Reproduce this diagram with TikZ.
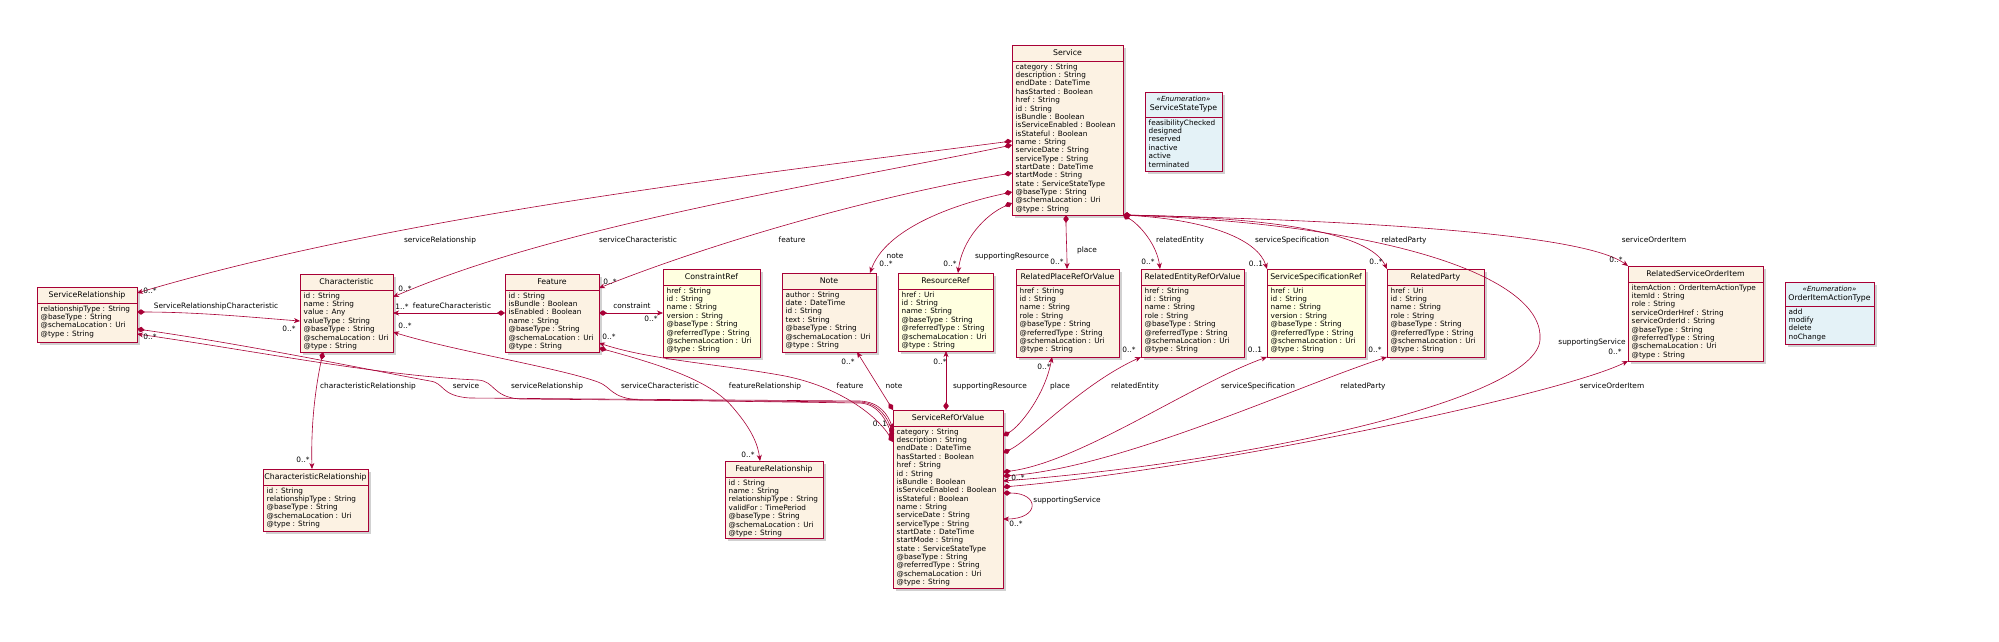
\documentclass[tikz,border=0pt]{standalone}
\usepackage{fontspec}
\setmainfont{DejaVu Sans}
\usetikzlibrary{arrows.meta,calc}
\definecolor{bordc}{HTML}{A80036}
\definecolor{beige}{HTML}{FCF2E3}
\definecolor{refy}{HTML}{FFFFE0}
\definecolor{enumb}{HTML}{E4F2F7}
\tikzset{
  boxst/.style={draw=bordc, line width=0.9pt, inner sep=0pt, outer sep=0pt},
  sepline/.style={draw=bordc, line width=0.9pt},
  titlest/.style={font=\fontsize{7.8}{9}\selectfont, inner sep=0pt, align=center},
  attrst/.style={font=\fontsize{7.3}{8.35}\selectfont, inner sep=0pt, align=left, anchor=north west},
  lbl/.style={font=\fontsize{7.4}{8}\selectfont, inner sep=0pt},
  comp/.style={draw=bordc, line width=0.6pt, {Diamond[length=8pt,width=5.5pt]}-{Stealth[length=6pt,width=5pt,inset=1.8pt]}},
  compr/.style={draw=bordc, line width=0.6pt, {Stealth[length=6pt,width=5pt,inset=1.8pt]}-{Diamond[length=8pt,width=5.5pt]}},
}
\newcommand\umlbox[9]{%
  \fill[black!18] (#2+3,#3+3) rectangle (#4+3,#5+3);
  \node[boxst, fill=#6, minimum width={#4-#2}, minimum height={#5-#3}, anchor=north west] (#1) at (#2,#3) {};
  \draw[sepline] ($(#1.north west)+(0,#7)$) -- ($(#1.north east)+(0,#7)$);
  \node[titlest] (#1-t) at ($(#1.north)+(0,#7/2)$) {#8};
  \node[attrst] (#1-a) at ($(#1.north west)+(3.5,#7+2.5)$) {#9};
}
\begin{document}
\begin{tikzpicture}[x=1pt,y=-1pt]
\useasboundingbox (0,0) rectangle (1999,641);
\fill[white] (0,0) rectangle (1999,641);

% ---------- classes ----------
\umlbox{Svc}{1012}{45}{1123}{215}{beige}{16}{Service}{category : String\\description : String\\endDate : DateTime\\hasStarted : Boolean\\href : String\\id : String\\isBundle : Boolean\\isServiceEnabled : Boolean\\isStateful : Boolean\\name : String\\serviceDate : String\\serviceType : String\\startDate : DateTime\\startMode : String\\state : ServiceStateType\\@baseType : String\\@schemaLocation : Uri\\@type : String}
\umlbox{SST}{1145}{92}{1222}{171}{enumb}{25}{{\fontsize{7}{8}\selectfont\itshape «Enumeration»}\\ServiceStateType}{feasibilityChecked\\designed\\reserved\\inactive\\active\\terminated}
\umlbox{SR}{37}{287}{137}{342}{beige}{16}{ServiceRelationship}{relationshipType : String\\@baseType : String\\@schemaLocation : Uri\\@type : String}
\umlbox{Char}{300}{274}{393}{352}{beige}{16}{Characteristic}{id : String\\name : String\\value : Any\\valueType : String\\@baseType : String\\@schemaLocation : Uri\\@type : String}
\umlbox{Feat}{505}{274}{599}{352}{beige}{16}{Feature}{id : String\\isBundle : Boolean\\isEnabled : Boolean\\name : String\\@baseType : String\\@schemaLocation : Uri\\@type : String}
\umlbox{CRef}{663}{269}{760}{357}{refy}{16}{ConstraintRef}{href : String\\id : String\\name : String\\version : String\\@baseType : String\\@referredType : String\\@schemaLocation : Uri\\@type : String}
\umlbox{Note}{782}{273}{876}{352}{beige}{16}{Note}{author : String\\date : DateTime\\id : String\\text : String\\@baseType : String\\@schemaLocation : Uri\\@type : String}
\umlbox{ResRef}{898}{273}{993}{351}{refy}{16}{ResourceRef}{href : Uri\\id : String\\name : String\\@baseType : String\\@referredType : String\\@schemaLocation : Uri\\@type : String}
\umlbox{RPlace}{1016}{269}{1119}{357}{beige}{16}{RelatedPlaceRefOrValue}{href : String\\id : String\\name : String\\role : String\\@baseType : String\\@referredType : String\\@schemaLocation : Uri\\@type : String}
\umlbox{REnt}{1141}{269}{1244}{357}{beige}{16}{RelatedEntityRefOrValue}{href : String\\id : String\\name : String\\role : String\\@baseType : String\\@referredType : String\\@schemaLocation : Uri\\@type : String}
\umlbox{SSpec}{1267}{269}{1365}{357}{refy}{16}{ServiceSpecificationRef}{href : Uri\\id : String\\name : String\\version : String\\@baseType : String\\@referredType : String\\@schemaLocation : Uri\\@type : String}
\umlbox{RParty}{1387}{269}{1484}{357}{beige}{16}{RelatedParty}{href : Uri\\id : String\\name : String\\role : String\\@baseType : String\\@referredType : String\\@schemaLocation : Uri\\@type : String}
\umlbox{RSOI}{1628}{266}{1763}{361}{beige}{16}{RelatedServiceOrderItem}{itemAction : OrderItemActionType\\itemId : String\\role : String\\serviceOrderHref : String\\serviceOrderId : String\\@baseType : String\\@referredType : String\\@schemaLocation : Uri\\@type : String}
\umlbox{OIAT}{1785}{282}{1874}{344}{enumb}{24}{{\fontsize{7}{8}\selectfont\itshape «Enumeration»}\\OrderItemActionType}{add\\modify\\delete\\noChange}
\umlbox{SRV}{893}{410}{1003}{588}{beige}{16}{ServiceRefOrValue}{category : String\\description : String\\endDate : DateTime\\hasStarted : Boolean\\href : String\\id : String\\isBundle : Boolean\\isServiceEnabled : Boolean\\isStateful : Boolean\\name : String\\serviceDate : String\\serviceType : String\\startDate : DateTime\\startMode : String\\state : ServiceStateType\\@baseType : String\\@referredType : String\\@schemaLocation : Uri\\@type : String}
\umlbox{CRel}{263}{469}{368}{531}{beige}{16}{CharacteristicRelationship}{id : String\\relationshipType : String\\@baseType : String\\@schemaLocation : Uri\\@type : String}
\umlbox{FRel}{725}{461}{823}{538}{beige}{16}{FeatureRelationship}{id : String\\name : String\\relationshipType : String\\validFor : TimePeriod\\@baseType : String\\@schemaLocation : Uri\\@type : String}

% ---------- connectors from Service ----------
\draw[comp] (Svc.west |- 0,141) .. controls (750,175) and (400,215) .. (SR.east |- 0,293);
\draw[comp] (Svc.west |- 0,145) .. controls (820,185) and (560,225) .. (Char.east |- 0,297);
\draw[comp] (Svc.west |- 0,173) .. controls (880,195) and (720,240) .. (Feat.east |- 0,288);
\draw[comp] (Svc.west |- 0,192) .. controls (950,205) and (885,230) .. (Note.north -| 870,0);
\draw[comp] (Svc.west |- 0,203) .. controls (985,215) and (962,240) .. (ResRef.north -| 958,0);
\draw[comp] (Svc.south -| 1066,0) .. controls (1066,235) and (1067,250) .. (RPlace.north -| 1067,0);
\draw[comp] (Svc.south east) .. controls (1140,225) and (1157,245) .. (REnt.north -| 1160,0);
\draw[comp] (Svc.south east) .. controls (1210,220) and (1258,240) .. (SSpec.north west);
\draw[comp] (Svc.south east) .. controls (1300,218) and (1372,238) .. (RParty.north west);
\draw[comp] (Svc.south east) .. controls (1420,222) and (1590,238) .. (RSOI.north west);
\draw[comp] (Svc.south east) .. controls (1400,225) and (1545,280) .. (1540,340) .. controls (1535,400) and (1250,462) .. (SRV.east |- 0,481);

% ---------- middle connectors ----------
\draw[comp] (SR.east |- 0,312) .. controls (200,312) and (260,318) .. (Char.west |- 0,321);
\draw[comp] (Feat.west |- 0,313) -- (Char.east |- 0,313);
\draw[comp] (Feat.east |- 0,313) -- (CRef.west |- 0,313);
\draw[comp] (Char.south -| 323,0) .. controls (314,395) and (311,430) .. (CRel.north -| 312,0);
\draw[comp] (Feat.east |- 0,348) .. controls (680,370) and (715,385) .. (735,410) .. controls (752,430) and (758,445) .. (FRel.north -| 760,0);

% ---------- connectors to ServiceRefOrValue ----------
\draw[comp] (SR.east |- 0,329) .. controls (250,345) and (380,372) .. (430,381) .. controls (445,383) and (440,396) .. (470,398) -- (860,401) .. controls (880,402) and (888,415) .. (SRV.west |- 0,429);
\draw[compr] (SR.east |- 0,334) .. controls (250,350) and (380,376) .. (478,380) .. controls (495,381) and (492,397) .. (520,399) -- (860,402) .. controls (880,403) and (888,420) .. (SRV.west |- 0,434);
\draw[compr] (Char.east |- 0,332) .. controls (450,350) and (560,368) .. (598,382) .. controls (612,387) and (610,398) .. (640,400) -- (860,403) .. controls (880,404) and (888,425) .. (SRV.west |- 0,438);
\draw[compr] (Feat.east |- 0,343) .. controls (650,360) and (720,364) .. (785,376) .. controls (845,388) and (880,420) .. (SRV.west |- 0,442);
\draw[compr] (Note.south -| 857,0) -- (SRV.north west);
\draw[compr] (ResRef.south -| 946,0) -- (SRV.north -| 946,0);
\draw[compr] (RPlace.south -| 1052,0) .. controls (1045,395) and (1020,426) .. (SRV.east |- 0,436);
\draw[compr] (REnt.south west) .. controls (1080,385) and (1030,440) .. (SRV.east |- 0,453);
\draw[compr] (SSpec.south west) .. controls (1190,385) and (1080,462) .. (SRV.east |- 0,472);
\draw[compr] (RParty.south west) .. controls (1300,385) and (1120,468) .. (SRV.east |- 0,476);
\draw[compr] (RSOI.south west) .. controls (1560,395) and (1200,470) .. (SRV.east |- 0,487);
\draw[comp] (SRV.east |- 0,493) .. controls (1040,493) and (1040,519) .. (SRV.east |- 0,519);

% ---------- labels ----------
\node[lbl] (t1) at (440,240) {serviceRelationship};
\node[lbl] (t2) at (638,240) {serviceCharacteristic};
\node[lbl] (t3) at (792,240) {feature};
\node[lbl] (t4) at (895,256) {note};
\node[lbl] (t5) at (1012,256) {supportingResource};
\node[lbl] (t6) at (1087,250) {place};
\node[lbl] (t7) at (1180,240) {relatedEntity};
\node[lbl] (t8) at (1292,240) {serviceSpecification};
\node[lbl] (t9) at (1404,240) {relatedParty};
\node[lbl] (t10) at (1654,240) {serviceOrderItem};
\node[lbl] (t11) at (1592,342) {supportingService};
\node[lbl] (t12) at (216,306) {ServiceRelationshipCharacteristic};
\node[lbl] (t13) at (452,306) {featureCharacteristic};
\node[lbl] (t14) at (632,306) {constraint};
\node[lbl] (t15) at (368,386) {characteristicRelationship};
\node[lbl] (t16) at (466,386) {service};
\node[lbl] (t17) at (547,386) {serviceRelationship};
\node[lbl] (t18) at (660,386) {serviceCharacteristic};
\node[lbl] (t19) at (765,386) {featureRelationship};
\node[lbl] (t20) at (850,386) {feature};
\node[lbl] (t21) at (894,386) {note};
\node[lbl] (t22) at (990,386) {supportingResource};
\node[lbl] (t23) at (1060,386) {place};
\node[lbl] (t24) at (1135,386) {relatedEntity};
\node[lbl] (t25) at (1258,386) {serviceSpecification};
\node[lbl] (t26) at (1363,386) {relatedParty};
\node[lbl] (t27) at (1612,386) {serviceOrderItem};
\node[lbl] (t28) at (1067,500) {supportingService};

% ---------- multiplicities ----------
\node[lbl] (m1) at (150,291) {0..*};
\node[lbl] (m2) at (405,289) {0..*};
\node[lbl] (m3) at (402,307) {1..*};
\node[lbl] (m4) at (405,326) {0..*};
\node[lbl] (m5) at (150,337) {0..*};
\node[lbl] (m6) at (289,329) {0..*};
\node[lbl] (m7) at (610,282) {0..*};
\node[lbl] (m8) at (609,337) {0..*};
\node[lbl] (m9) at (651,319) {0..*};
\node[lbl] (m10) at (886,264) {0..*};
\node[lbl] (m11) at (950,264) {0..*};
\node[lbl] (m12) at (1057,262) {0..*};
\node[lbl] (m13) at (1148,262) {0..*};
\node[lbl] (m14) at (1256,264) {0..1};
\node[lbl] (m15) at (1376,262) {0..*};
\node[lbl] (m16) at (1616,260) {0..*};
\node[lbl] (m17) at (848,362) {0..*};
\node[lbl] (m18) at (940,362) {0..*};
\node[lbl] (m19) at (1044,367) {0..*};
\node[lbl] (m20) at (1129,350) {0..*};
\node[lbl] (m21) at (1255,350) {0..1};
\node[lbl] (m22) at (1375,350) {0..*};
\node[lbl] (m23) at (1615,352) {0..*};
\node[lbl] (m24) at (303,460) {0..*};
\node[lbl] (m25) at (748,455) {0..*};
\node[lbl] (m26) at (880,424) {0..1};
\node[lbl] (m27) at (1018,478) {0..*};
\node[lbl] (m28) at (1016,524) {0..*};
\end{tikzpicture}
\end{document}
